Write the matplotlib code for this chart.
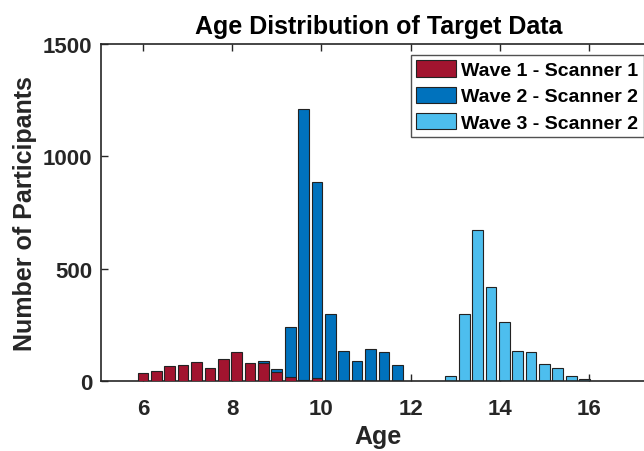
import matplotlib.pyplot as plt
from matplotlib.patches import Patch

plt.rcParams['font.family'] = ['Liberation Sans', 'DejaVu Sans']
plt.rcParams['font.weight'] = 'bold'

# bin centres (age, years) and counts
age_w1 = [6.0, 6.3, 6.6, 6.9, 7.2, 7.5, 7.8, 8.1, 8.4, 8.7, 9.0, 9.3, 9.6, 9.9]
count_w1 = [34, 43, 66, 71, 84, 59, 97, 127, 81, 78, 40, 16, 6, 12]

age_w2 = [8.7, 9.0, 9.3, 9.6, 9.9, 10.2, 10.5, 10.8, 11.1, 11.4, 11.7]
count_w2 = [88, 52, 239, 1209, 887, 296, 133, 87, 141, 128, 72]

age_w3 = [12.9, 13.2, 13.5, 13.8, 14.1, 14.4, 14.7, 15.0, 15.3, 15.6, 15.9]
count_w3 = [21, 300, 670, 418, 264, 134, 128, 75, 57, 21, 8]

labels = ['Wave 1 - Scanner 1', 'Wave 2 - Scanner 2', 'Wave 3 - Scanner 2']
colors = ['#A2142F', '#0072BD', '#4DBEEE']

xticks = [6, 8, 10, 12, 14, 16]
yticks = [0, 500, 1000, 1500]

dark = '#262626'
bar_w = 0.24

fig = plt.figure(figsize=(6.44, 4.52), dpi=100)
# axes run a little past the right edge, as in the cropped original
ax = fig.add_axes([0.1562, 0.1549, 0.8624, 0.7456])

ax.bar(age_w3, count_w3, width=bar_w, color=colors[2], edgecolor='#222222', linewidth=0.8, zorder=2)
ax.bar(age_w2, count_w2, width=bar_w, color=colors[1], edgecolor='#222222', linewidth=0.8, zorder=2)
ax.bar(age_w1, count_w1, width=bar_w, color=colors[0], edgecolor='#222222', linewidth=0.8, zorder=3)

ax.set_xlim(5.05, 17.5)
ax.set_ylim(0, 1500)
ax.set_xticks(xticks)
ax.set_yticks(yticks)
ax.tick_params(direction='in', length=5, width=1, top=True, right=True,
               labelsize=16, colors=dark)
ax.tick_params(axis='x', pad=12)
ax.tick_params(axis='y', pad=6)
for s in ax.spines.values():
    s.set_linewidth(1.2)
    s.set_color(dark)

ax.set_title('Age Distribution of Target Data', fontsize=18, fontweight='bold', pad=8)
ax.set_xlabel('Age', fontsize=18, fontweight='bold', color=dark, labelpad=4)
ax.set_ylabel('Number of Participants', fontsize=18, fontweight='bold', color=dark, labelpad=4)

handles = [Patch(facecolor=c, edgecolor='#222222', linewidth=0.8) for c in colors]
leg = fig.legend(handles, labels, loc='upper left', bbox_to_anchor=(0.638, 0.876),
                 fontsize=14, frameon=True, fancybox=False, edgecolor=dark,
                 handlelength=2.05, handleheight=0.9, handletextpad=0.25,
                 labelspacing=0.38, borderpad=0.28, borderaxespad=0)
leg.get_frame().set_linewidth(1.0)

fig.savefig('out.png', dpi=100)
